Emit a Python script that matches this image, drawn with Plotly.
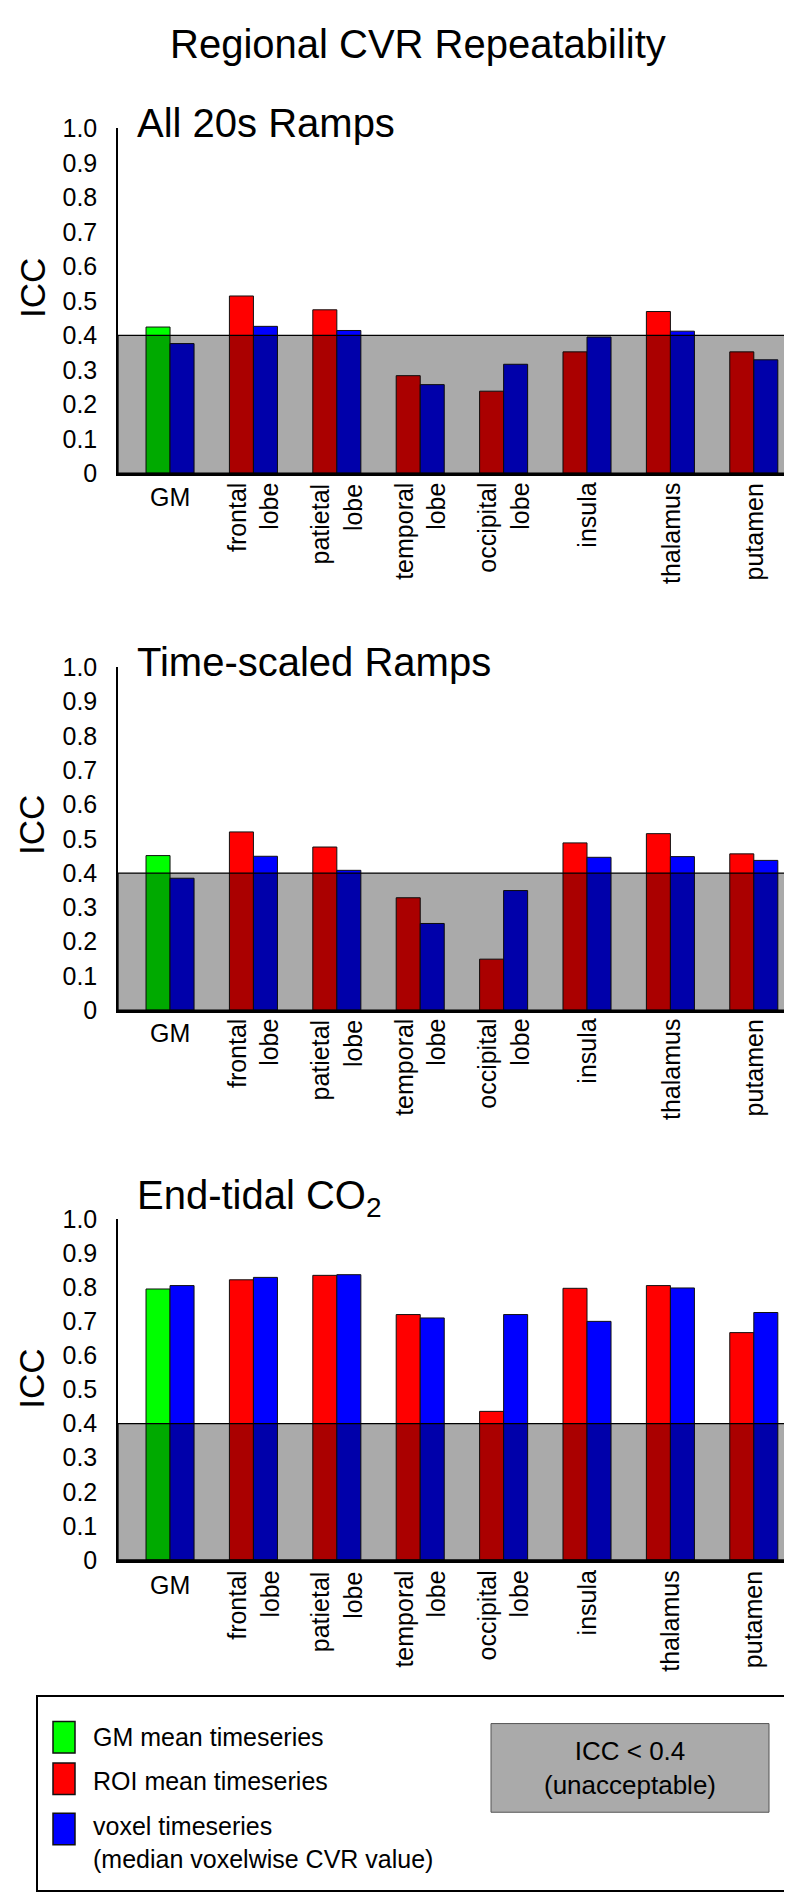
import plotly.graph_objects as go

# ---------------- data ----------------
categories = ["GM", "frontal<br>lobe", "patietal<br>lobe", "temporal<br>lobe",
              "occipital<br>lobe", "insula", "thalamus", "putamen"]
panel_titles = ["All 20s Ramps", "Time-scaled Ramps", "End-tidal CO<sub>2</sub>"]

ramps20_roi = [0.424, 0.514, 0.474, 0.283, 0.238, 0.352, 0.469, 0.352]
ramps20_vox = [0.376, 0.426, 0.414, 0.257, 0.316, 0.395, 0.412, 0.329]

timescaled_roi = [0.451, 0.520, 0.476, 0.328, 0.149, 0.488, 0.515, 0.456]
timescaled_vox = [0.385, 0.449, 0.408, 0.253, 0.349, 0.446, 0.448, 0.437]

etco2_roi = [0.795, 0.822, 0.835, 0.720, 0.436, 0.797, 0.805, 0.667]
etco2_vox = [0.805, 0.829, 0.837, 0.710, 0.720, 0.700, 0.798, 0.726]

roi_series = [ramps20_roi, timescaled_roi, etco2_roi]
vox_series = [ramps20_vox, timescaled_vox, etco2_vox]

threshold = 0.4
ytick_vals = [0, 0.1, 0.2, 0.3, 0.4, 0.5, 0.6, 0.7, 0.8, 0.9, 1.0]
ytick_text = ["0", "0.1", "0.2", "0.3", "0.4", "0.5", "0.6", "0.7", "0.8", "0.9", "1.0"]

legend_items = ["GM mean timeseries", "ROI mean timeseries",
                "voxel timeseries<br>(median voxelwise CVR value)"]
threshold_label = "ICC < 0.4<br>(unacceptable)"

# ---------------- style ----------------
W, H = 792, 1901
FONT = "Liberation Sans, Arial, Helvetica, sans-serif"
GREEN, RED, BLUE = "#00FF00", "#FF0000", "#0000FF"
SHADE = "rgba(0,0,0,0.335)"

def fx(px):
    return px / W

def fy(py):
    return 1 - py / H

# pixel layout of the three panels: (top of axis, bottom of axis)
panels = [(108, 458), (655, 1003), (1215, 1561)]
label_tops = [466, 1010, 1570]
icc_centers = [270, 815, 1377]
subtitle_centers = [103, 650, 1194]
x_left, x_right = 110, 790

fig = go.Figure()
layout_axes = {}
annotations = []
shapes = []

for i in range(3):
    xa = "x" if i == 0 else f"x{i+1}"
    ya = "y" if i == 0 else f"y{i+1}"
    xkey = "xaxis" if i == 0 else f"xaxis{i+1}"
    ykey = "yaxis" if i == 0 else f"yaxis{i+1}"
    roi_colors = [GREEN] + [RED] * (len(categories) - 1)
    fig.add_trace(go.Bar(x=categories, y=roi_series[i], xaxis=xa, yaxis=ya,
                         marker=dict(color=roi_colors, line=dict(color="#111", width=1)),
                         showlegend=False, offsetgroup="roi"))
    fig.add_trace(go.Bar(x=categories, y=vox_series[i], xaxis=xa, yaxis=ya,
                         marker=dict(color=BLUE, line=dict(color="#111", width=1)),
                         showlegend=False, offsetgroup="vox"))
    top, bot = panels[i]
    layout_axes[xkey] = dict(domain=[fx(x_left), fx(x_right)], anchor=ya,
                             type="category", categoryarray=categories,
                             range=[-0.624, 7.53], showticklabels=False,
                             showline=True, linecolor="black", linewidth=2.5,
                             ticks="", showgrid=False, zeroline=False, fixedrange=True)
    layout_axes[ykey] = dict(domain=[fy(bot), fy(top)], anchor=xa, range=[0, 1.0],
                             tickvals=ytick_vals, ticktext=ytick_text,
                             tickfont=dict(size=25, color="black", family=FONT),
                             ticks="", ticklabelstandoff=14,
                             showline=True, linecolor="black", linewidth=1.5,
                             showgrid=False, zeroline=False, fixedrange=True)
    # shaded "unacceptable" zone
    shapes.append(dict(type="rect", xref=f"{xa} domain", yref=ya,
                       x0=0, x1=1, y0=0, y1=threshold,
                       fillcolor=SHADE, line=dict(color="black", width=1.3),
                       layer="above"))
    # panel subtitle
    annotations.append(dict(text=panel_titles[i], xref="paper", yref="paper",
                            x=fx(127), y=fy(subtitle_centers[i]),
                            xanchor="left", yanchor="middle", showarrow=False,
                            font=dict(size=40, color="black", family=FONT)))
    # y axis title
    annotations.append(dict(text="ICC", xref="paper", yref="paper",
                            x=fx(24), y=fy(icc_centers[i]), textangle=-90,
                            xanchor="center", yanchor="middle", showarrow=False,
                            borderpad=0,
                            font=dict(size=35, color="black", family=FONT)))
    # category labels
    for c in categories:
        rot = 0 if c == "GM" else -90
        annotations.append(dict(text=c, xref=xa, yref="paper", x=c,
                                y=fy(label_tops[i]), textangle=rot,
                                xanchor="center", yanchor="top", align="right",
                                showarrow=False,
                                font=dict(size=25, color="black", family=FONT)))

# main title
annotations.append(dict(text="Regional CVR Repeatability", xref="paper", yref="paper",
                        x=fx(410), y=fy(22), xanchor="center", yanchor="middle",
                        showarrow=False, font=dict(size=40, color="black", family=FONT)))

# legend box
shapes.append(dict(type="rect", xref="paper", yref="paper",
                   x0=fx(29), x1=fx(783), y0=fy(1897), y1=fy(1699),
                   line=dict(color="black", width=2), fillcolor="rgba(0,0,0,0)"))
legend_colors = [GREEN, RED, BLUE]
sq_tops = [1725, 1767, 1818]
text_centers = [1741, 1785, 1848]
for col, t, txt, tc in zip(legend_colors, sq_tops, legend_items, text_centers):
    shapes.append(dict(type="rect", xref="paper", yref="paper",
                       x0=fx(45), x1=fx(67), y0=fy(t + 32), y1=fy(t),
                       fillcolor=col, line=dict(color="#111", width=1.5)))
    annotations.append(dict(text=txt, xref="paper", yref="paper",
                            x=fx(83), y=fy(tc), xanchor="left", yanchor="middle",
                            align="left", showarrow=False,
                            font=dict(size=25, color="black", family=FONT)))
shapes.append(dict(type="rect", xref="paper", yref="paper",
                   x0=fx(483), x1=fx(761), y0=fy(1817), y1=fy(1727),
                   fillcolor="#AAAAAA", line=dict(color="#555", width=1)))
annotations.append(dict(text=threshold_label, xref="paper", yref="paper",
                        x=fx(622), y=fy(1772), xanchor="center", yanchor="middle",
                        align="center", showarrow=False,
                        font=dict(size=26, color="black", family=FONT)))

fig.update_layout(width=W, height=H, margin=dict(l=0, r=0, t=0, b=0),
                  paper_bgcolor="white", plot_bgcolor="white",
                  barmode="group", bargap=0.424, bargroupgap=0,
                  annotations=annotations, shapes=shapes,
                  font=dict(family=FONT, color="black"), **layout_axes)

fig.write_html("out.html")
